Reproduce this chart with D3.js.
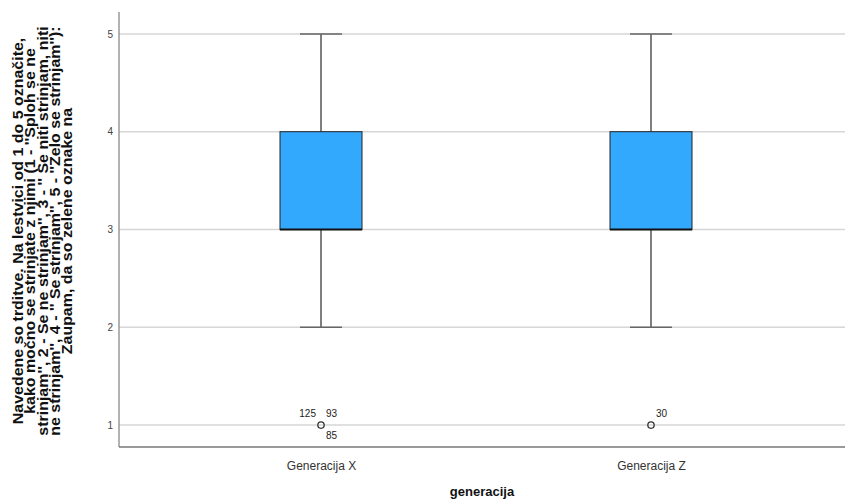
<!DOCTYPE html>
<html>
<head>
<meta charset="utf-8">
<script src="https://cdn.jsdelivr.net/npm/d3@7"></script>
<style>
  body { margin: 0; background: #fff; }
  text { font-family: "Liberation Sans", Arial, sans-serif; }
</style>
</head>
<body>
<div id="chart"></div>
<script>
// box plot data
const categories = ['Generacija X', 'Generacija Z'];
const whiskerLow = [2, 2];
const q1 = [3, 3];
const median = [3, 3];
const q3 = [4, 4];
const whiskerHigh = [5, 5];
const outliers = [
  {cat: 'Generacija X', value: 1, labels: ['125', '93', '85']},
  {cat: 'Generacija Z', value: 1, labels: ['30']}
];
const yTicks = [1, 2, 3, 4, 5];
const yTitleLines = [
  'Navedene so trditve. Na lestvici od 1 do 5 označite,',
  'kako močno se strinjate z njimi (1 - \'\'Sploh se ne',
  'strinjam\'\', 2 - Se ne strinjam\'\', 3 - \'\' Se niti strinjam, niti',
  'ne strinjam\'\', 4 - \'\' Se strinjam\'\', 5 - \'\'Zelo se strinjam\'\'):',
  'Zaupam, da so zelene oznake na'
];
const xTitle = 'generacija';

const width = 845;
const height = 504;
const plotLeft = 119;
const plotTop = 12;
const plotBottom = 447;

const svg = d3.select('#chart')
  .append('svg')
  .attr('width', width)
  .attr('height', height);

const xScale = d3.scalePoint()
  .domain(categories)
  .range([plotLeft + 4, width + 4])
  .padding(0.6);

const yScale = d3.scaleLinear()
  .domain([0.776, 5.224])
  .range([plotBottom, plotTop]);

// gridlines
svg.append('g')
  .selectAll('line')
  .data(yTicks)
  .join('line')
  .attr('x1', plotLeft)
  .attr('x2', width)
  .attr('y1', d => yScale(d))
  .attr('y2', d => yScale(d))
  .attr('stroke', '#d6d6d6')
  .attr('stroke-width', 1.5);

// y axis
const yAxis = svg.append('g')
  .attr('transform', `translate(${plotLeft},0)`)
  .call(d3.axisLeft(yScale).tickValues(yTicks).tickFormat(d3.format('d')).tickSize(0).tickPadding(6));
yAxis.select('.domain').remove();
yAxis.selectAll('text')
  .attr('font-size', 10)
  .attr('fill', '#444')
  .style('font-family', '"Liberation Sans", Arial, sans-serif');

svg.append('line')
  .attr('x1', plotLeft).attr('x2', plotLeft)
  .attr('y1', plotTop).attr('y2', plotBottom)
  .attr('stroke', '#999')
  .attr('stroke-width', 1.5);

// x axis
const xAxis = svg.append('g')
  .attr('transform', `translate(0,${plotBottom})`)
  .call(d3.axisBottom(xScale).tickSize(0).tickPadding(14));
xAxis.select('.domain').remove();
xAxis.selectAll('text')
  .attr('font-size', 12)
  .attr('fill', '#333')
  .style('font-family', '"Liberation Sans", Arial, sans-serif');

svg.append('line')
  .attr('x1', plotLeft).attr('x2', width)
  .attr('y1', plotBottom).attr('y2', plotBottom)
  .attr('stroke', '#777')
  .attr('stroke-width', 1.5);

// boxes
const boxW = 82;
const capW = 42;
const boxes = svg.append('g')
  .selectAll('g')
  .data(categories)
  .join('g');

boxes.append('line')
  .attr('x1', d => xScale(d)).attr('x2', d => xScale(d))
  .attr('y1', (d, i) => yScale(whiskerHigh[i]))
  .attr('y2', (d, i) => yScale(q3[i]))
  .attr('stroke', '#555').attr('stroke-width', 1.5);
boxes.append('line')
  .attr('x1', d => xScale(d)).attr('x2', d => xScale(d))
  .attr('y1', (d, i) => yScale(q1[i]))
  .attr('y2', (d, i) => yScale(whiskerLow[i]))
  .attr('stroke', '#555').attr('stroke-width', 1.5);
boxes.append('line')
  .attr('x1', d => xScale(d) - capW / 2).attr('x2', d => xScale(d) + capW / 2)
  .attr('y1', (d, i) => yScale(whiskerHigh[i]))
  .attr('y2', (d, i) => yScale(whiskerHigh[i]))
  .attr('stroke', '#666').attr('stroke-width', 1.5);
boxes.append('line')
  .attr('x1', d => xScale(d) - capW / 2).attr('x2', d => xScale(d) + capW / 2)
  .attr('y1', (d, i) => yScale(whiskerLow[i]))
  .attr('y2', (d, i) => yScale(whiskerLow[i]))
  .attr('stroke', '#666').attr('stroke-width', 1.5);
boxes.append('rect')
  .attr('x', d => xScale(d) - boxW / 2)
  .attr('width', boxW)
  .attr('y', (d, i) => yScale(q3[i]))
  .attr('height', (d, i) => yScale(q1[i]) - yScale(q3[i]))
  .attr('fill', '#33a9fd')
  .attr('stroke', '#222')
  .attr('stroke-width', 1);
boxes.append('line')
  .attr('x1', d => xScale(d) - boxW / 2).attr('x2', d => xScale(d) + boxW / 2)
  .attr('y1', (d, i) => yScale(median[i]))
  .attr('y2', (d, i) => yScale(median[i]))
  .attr('stroke', '#111').attr('stroke-width', 2);

// outliers
const out = svg.append('g')
  .selectAll('g')
  .data(outliers)
  .join('g')
  .attr('transform', d => `translate(${xScale(d.cat)},${yScale(d.value)})`);
out.append('circle')
  .attr('r', 3.2)
  .attr('fill', 'none')
  .attr('stroke', '#333')
  .attr('stroke-width', 1.3);

// label offsets around each outlier circle
const labelSpots = [[-5, -8, 'end'], [5, -8, 'start'], [5, 14, 'start']];
out.selectAll('text')
  .data(d => d.labels.length === 1 ? [[d.labels[0], labelSpots[1]]] : d.labels.map((l, i) => [l, labelSpots[i]]))
  .join('text')
  .attr('x', d => d[1][0])
  .attr('y', d => d[1][1])
  .attr('text-anchor', d => d[1][2])
  .attr('font-size', 10)
  .attr('fill', '#222')
  .text(d => d[0]);

// titles
svg.append('text')
  .attr('x', 482)
  .attr('y', 496)
  .attr('text-anchor', 'middle')
  .attr('font-size', 13)
  .attr('font-weight', 'bold')
  .attr('fill', '#111')
  .text(xTitle);

const yTitle = svg.append('g')
  .attr('transform', 'translate(23,231) rotate(-90)')
  .append('g');
const yTitleText = yTitle.selectAll('text')
  .data(yTitleLines)
  .join('text')
  .attr('x', 0)
  .attr('y', (d, i) => i * 12.3)
  .attr('text-anchor', 'middle')
  .attr('font-size', 14)
  .attr('font-weight', 'bold')
  .attr('fill', '#111')
  .text(d => d);

// the original title is stretched a bit along its length; first line spans ~387px
const firstLen = yTitleText.node().getComputedTextLength();
if (firstLen > 0) yTitle.attr('transform', `scale(${387 / firstLen},1)`);
</script>
</body>
</html>
